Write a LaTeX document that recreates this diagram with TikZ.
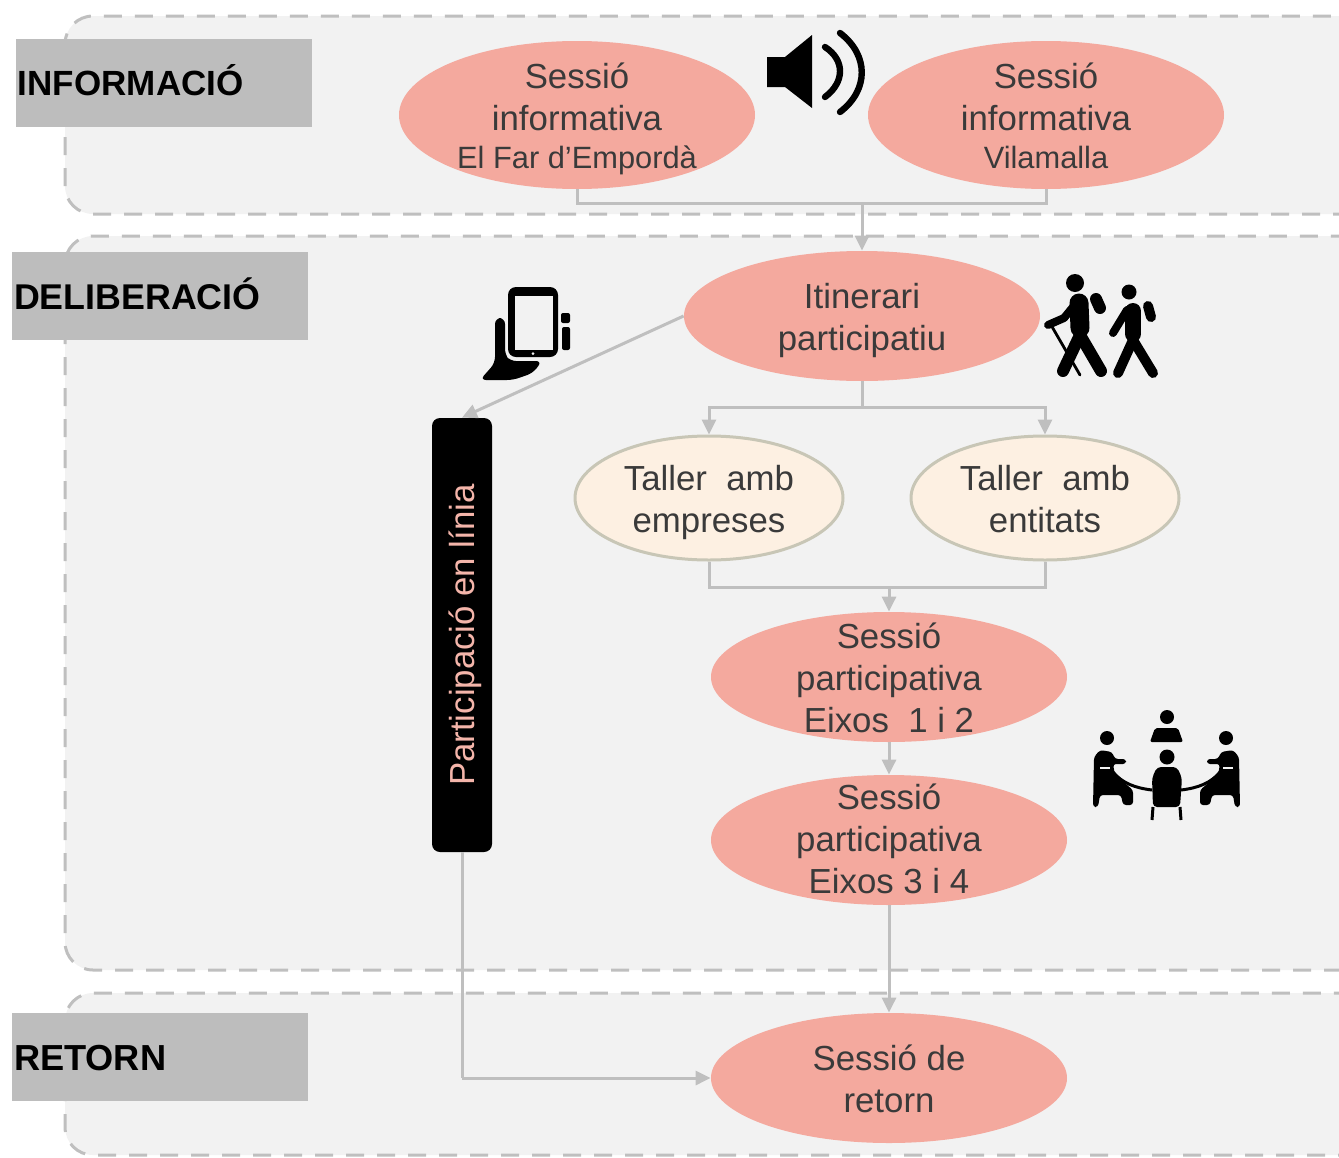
\documentclass[tikz,border=0pt]{standalone}
\usepackage{fontspec}
\setmainfont{Liberation Sans}
\usetikzlibrary{arrows, arrows.meta}
\usetikzlibrary{shapes.geometric}
\definecolor{panelfill}{HTML}{F2F2F2}
\definecolor{paneldash}{HTML}{BFBFBF}
\definecolor{headfill}{HTML}{BDBDBD}
\definecolor{salmon}{HTML}{F4A99E}
\definecolor{cream}{HTML}{FDF0E2}
\definecolor{creamline}{HTML}{C8C6B6}
\definecolor{linkgray}{HTML}{BFBFBF}
\definecolor{txtgray}{HTML}{3A3A3A}
\definecolor{bartext}{HTML}{F4B5AA}
\tikzset{
  panel/.style={fill=panelfill, draw=paneldash, line width=1.5pt, dash pattern=on 9pt off 6.5pt, rounded corners=14pt},
  headbox/.style={rectangle, fill=headfill, minimum width=148pt, minimum height=44pt, inner xsep=1pt, inner ysep=0pt, text width=146pt, text height=13pt, text depth=0pt, align=left, font=\fontsize{17.5}{21}\selectfont\bfseries, text=black},
  bigell/.style={ellipse, fill=salmon, minimum width=178pt, minimum height=65pt, inner sep=0pt},
  smallell/.style={ellipse, fill=cream, draw=creamline, line width=1.5pt, minimum width=134pt, minimum height=62pt, inner sep=0pt},
  elltext/.style={inner sep=0pt, yshift=#1, align=center, text=txtgray, font=\fontsize{17.4}{21}\selectfont},
  onlinebar/.style={rectangle, rounded corners=4pt, fill=black, text=bartext, rotate=90, minimum width=217pt, minimum height=30pt, inner sep=0pt, font=\fontsize{17.4}{21}\selectfont, execute at begin node={\rule{0pt}{16pt}}, execute at end node={\rule[-3.7pt]{0pt}{3.7pt}}},
  link/.style={draw=linkgray, line width=1.5pt},
  linkarrow/.style={link, -{Triangle[length=7.5pt,width=7pt]}},
  sound/.style={line width=3.2pt, line cap=round},
  limb/.style={line cap=round, line join=round}
}
\begin{document}
\begin{tikzpicture}[x=0.5pt, y=-0.5pt]
      \clip (0,0) rectangle (1339,1157);
      \draw[panel] (65,16) rectangle (1400,214);
      \draw[panel] (65,236) rectangle (1400,970);
      \draw[panel] (65,993) rectangle (1400,1155);

      \node[headbox] (informacio) at (164,82.5) {INFORMACIÓ};
      \node[headbox, font=\fontsize{17.9}{21}\selectfont\bfseries] (deliberacio) at (160,296) {DELIBERACIÓ};
      \node[headbox, font=\fontsize{18.1}{21}\selectfont\bfseries] (retorn) at (160,1057) {RETORN};

      \node[bigell, minimum height=74pt, label={[elltext=-2pt]center:{Sessió\\informativa\\[-2pt]{\fontsize{15.4}{19}\selectfont El Far d’Empordà}}}] (far) at (577,115) {};
      \node[bigell, minimum height=74pt, label={[elltext=-0.5pt]center:{Sessió\\informativa\\[-2pt]{\fontsize{15.4}{19}\selectfont Vilamalla}}}] (vila) at (1046,115) {};
      \node[bigell, label={[elltext=-2pt]center:{Itinerari\\participatiu}}] (itinerari) at (862,316) {};
      \node[smallell, label={[elltext=-2pt]center:{Taller\ \ amb\\empreses}}] (empreses) at (709,498) {};
      \node[smallell, label={[elltext=-0.5pt]center:{Taller\ \ amb\\entitats}}] (entitats) at (1045,498) {};
      \node[bigell, label={[elltext=-0.5pt]center:{Sessió\\participativa\\Eixos\ \ 1 i 2}}] (sessio1) at (889,677) {};
      \node[bigell, label={[elltext=0.5pt]center:{Sessió\\participativa\\Eixos 3 i 4}}] (sessio2) at (889,840) {};
      \node[bigell, label={[elltext=-0.5pt]center:{Sessió de\\retorn}}] (sessioretorn) at (889,1078) {};
      \node[onlinebar] (online) at (462,635) {Participació en línia};

      \coordinate (join1) at (862,203);
      \coordinate (join2) at (862,407);
      \coordinate (join3) at (889,587);
      \coordinate (corner) at (462,1078);

      \draw[link] (far.south) |- (join1);
      \draw[link] (vila.south) |- (join1);
      \draw[linkarrow] (join1) -- (itinerari.north);
      \draw[linkarrow] (itinerari.west) -- (online.east);
      \draw[link] (itinerari.south) -- (join2);
      \draw[linkarrow] (join2) -| (empreses.north);
      \draw[linkarrow] (join2) -| (entitats.north);
      \draw[link] (empreses.south) |- (join3);
      \draw[link] (entitats.south) |- (join3);
      \draw[linkarrow] (join3) -- (sessio1.north);
      \draw[linkarrow] (sessio1.south) -- (sessio2.north);
      \draw[linkarrow] (sessio2.south) -- (sessioretorn.north);
      \draw[link] (online.west) -- (corner);
      \draw[linkarrow] (corner) -- (sessioretorn.west);

      % speaker
      \fill (767,57) -- (785,57) -- (812,35) -- (812,108) -- (785,87) -- (767,87) -- cycle;
      \draw[sound] (825,47) .. controls (845,60) and (845,82) .. (825,97);
      \draw[sound] (840,33) .. controls (869,55) and (869,90) .. (840,112);

      % walkers
      \fill (1075,283) circle (9);
      \draw[limb, line width=9.5pt] (1079,303) -- (1080,328);
      \draw[limb, line width=6pt] (1080,335) -- (1063,371);
      \draw[limb, line width=6pt] (1080,335) -- (1101,371);
      \draw[limb, line width=4pt] (1073,307) -- (1064,318) -- (1048,325);
      \draw[limb, line width=1.4pt] (1051,325) -- (1080,375);
      \draw[limb, line width=6pt] (1096,299) -- (1100,308);
      \fill (1129,292) circle (7.5);
      \draw[limb, line width=8pt] (1133,311) -- (1133,334);
      \draw[limb, line width=5pt] (1133,340) -- (1118,373);
      \draw[limb, line width=5pt] (1133,340) -- (1153,373);
      \draw[limb, line width=4pt] (1127,310) -- (1113,333);
      \draw[limb, line width=5pt] (1148,306) -- (1151,317);

      % tablet
      \fill[rounded corners=4pt] (508,287) rectangle (558,357);
      \fill[panelfill] (515,296) rectangle (553,350);
      \fill[panelfill] (533,353.5) circle (1.5);
      \fill[rounded corners=3pt] (495,318) -- (505,318) -- (505,355) -- (510,361) -- (542,361) -- (533,373) -- (513,380) -- (480,380) -- (495,363) -- cycle;
      \fill[rounded corners=1pt] (561,313) rectangle (570,323);
      \fill[rounded corners=1pt] (562,327) rectangle (570,350);

      % meeting
      \fill (1167,717) circle (7);
      \fill[rounded corners=1pt] (1150,742) -- (1155,728) -- (1178,728) -- (1183,742) -- cycle;
      \fill (1167,757) circle (7.5);
      \fill[rounded corners=2pt] (1152,778) -- (1157,767) -- (1177,767) -- (1182,778) -- (1180,807) -- (1153,807) -- cycle;
      \draw[line width=1.5pt] (1153,807) -- (1152,820);
      \draw[line width=1.5pt] (1180,807) -- (1181,820);
      \foreach \side/\flip in {0/1, 2333/-1} {
        \begin{scope}[xshift=\side*0.5pt, xscale=\flip]
          \fill (1107,738) circle (7);
          \fill[rounded corners=1.5pt] (1094,757) -- (1100,750) -- (1112,752) -- (1115,759) -- (1126,759) -- (1126,764) -- (1113,764) -- (1115,775) -- (1133,790) -- (1133,805) -- (1123,805) -- (1121,795) -- (1100,795) -- (1098,807) -- (1093,807) -- cycle;
          \draw[panelfill, line width=1pt] (1100,768) -- (1110,768);
          \draw[line width=1.5pt] (1113,772) .. controls (1122,783) and (1135,788) .. (1152,790);
        \end{scope}
      }
    \end{tikzpicture}
\end{document}
